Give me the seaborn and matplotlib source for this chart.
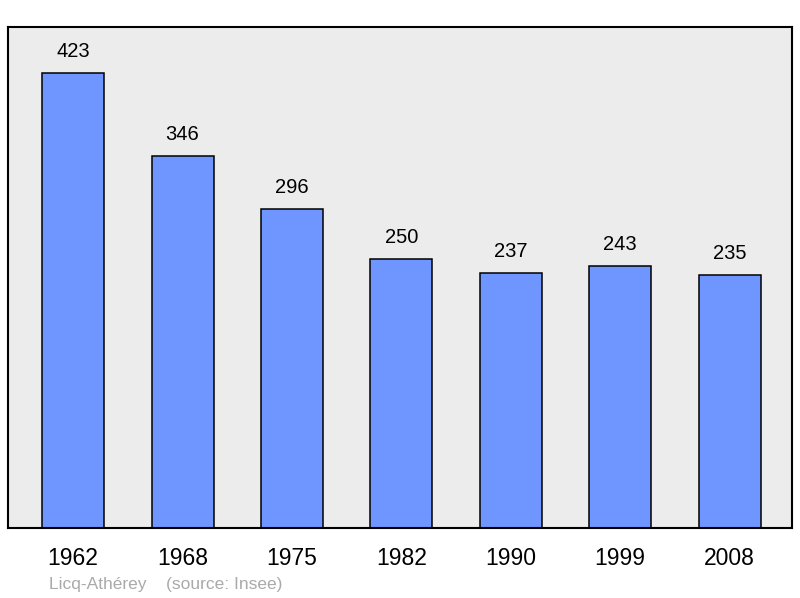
import matplotlib
matplotlib.use("Agg")
import matplotlib.pyplot as plt
import seaborn as sns
import pandas as pd

years = ["1962", "1968", "1975", "1982", "1990", "1999", "2008"]
population = [423, 346, 296, 250, 237, 243, 235]

sns.set_style("white")
plt.rcParams["font.family"] = ["Liberation Sans", "DejaVu Sans"]
plt.rcParams["text.color"] = "black"
plt.rcParams["xtick.color"] = "black"

df = pd.DataFrame({"year": years, "pop": population})

fig = plt.figure(figsize=(8, 5.98), dpi=100)
ax = fig.add_axes([8 / 800, 1 - 528 / 598, 784 / 800, 501 / 598])
ax.set_facecolor("#ececec")

sns.barplot(data=df, x="year", y="pop", color="#6f96ff", saturation=1,
            width=0.567, edgecolor="black", linewidth=1.1, ax=ax)

for i, v in enumerate(population):
    ax.annotate(str(v), (i, v), xytext=(0, 15.5), textcoords="offset points",
                ha="center", va="center", fontsize=14.5, color="black")

ax.set_xlim(-0.595, 6.57)
ax.set_ylim(0, 465.5)
ax.set_yticks([])
ax.set_xlabel("")
ax.set_ylabel("")
ax.tick_params(axis="x", length=0, labelsize=16.5, pad=14, labelcolor="black")
for s in ax.spines.values():
    s.set_visible(True)
    s.set_color("black")
    s.set_linewidth(1.5)

fig.text(49 / 800, 1 - 584 / 598, "Licq-Athérey    (source: Insee)",
         color="#aaaaaa", fontsize=12.5, va="center", ha="left")

fig.savefig("out.png", dpi=100)
